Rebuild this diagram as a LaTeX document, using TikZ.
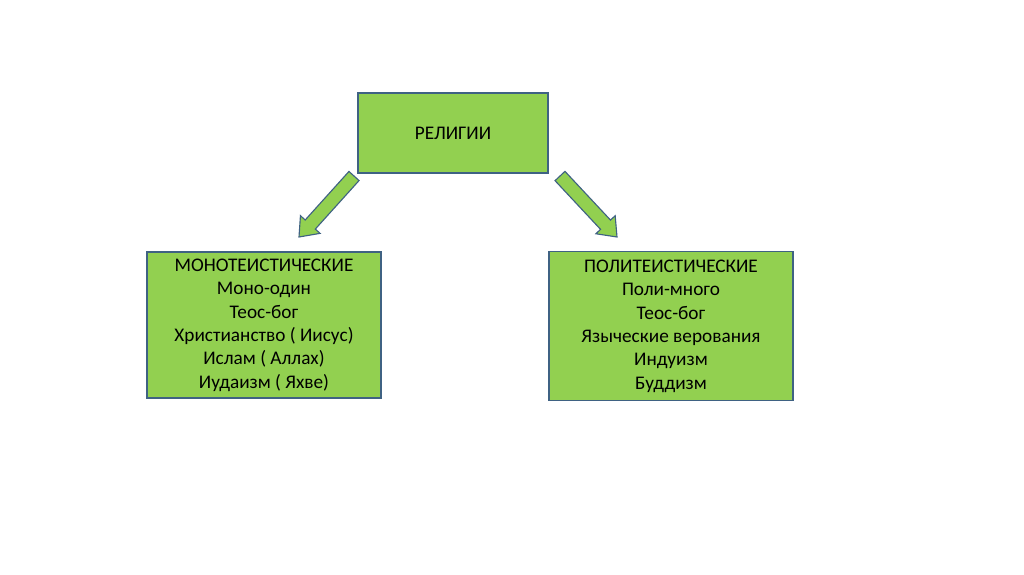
\documentclass[tikz,border=0pt]{standalone}
\usepackage{fontspec}
\setmainfont{Carlito}
\usetikzlibrary{calc}

\definecolor{boxgreen}{HTML}{92D050}
\definecolor{boxline}{HTML}{3F6283}

\tikzset{
  religbox/.style = {draw = boxline, fill = boxgreen, line width = 0.8pt,
    align = center, inner sep = 0pt, font = \fontsize{13.7}{16.6}\selectfont},
  blockarrow/.style = {draw = boxline, fill = boxgreen, line width = 0.8pt, line join = miter}
}

% freccia a blocco: #1 inizio, #2 punta
\newcommand{\blockarrow}[2]{%
  \coordinate (H) at ($(#2)!0.42cm!(#1)$);
  \draw[blockarrow] ($(#1)!0.17cm!90:(#2)$) -- ($(H)!0.17cm!-90:(#1)$)
    -- ($(H)!0.33cm!-90:(#1)$) -- (#2) -- ($(H)!0.33cm!90:(#1)$)
    -- ($(H)!0.17cm!90:(#1)$) -- ($(#1)!0.17cm!-90:(#2)$) -- cycle;
}

\begin{document}
\begin{tikzpicture}[x = 0.025cm, y = -0.025cm]
  % Sfondo (dimensioni del riferimento)
  \fill[white] (0,0) rectangle (1024,574);

  % Riquadri
  \node[religbox, minimum width = 4.75cm, minimum height = 2cm] (relig) at (453,133) {РЕЛИГИИ};
  \node[religbox, minimum width = 5.85cm, minimum height = 3.65cm] (mono) at (264,325)
    {МОНОТЕИСТИЧЕСКИЕ\\Моно-один\\Теос-бог\\Христианство ( Иисус)\\Ислам ( Аллах)\\Иудаизм ( Яхве)};
  \node[religbox, minimum width = 6.1cm, minimum height = 3.72cm] (poli) at (671,326)
    {ПОЛИТЕИСТИЧЕСКИЕ\\Поли-много\\Теос-бог\\Языческие верования\\Индуизм\\Буддизм};

  % Frecce
  \coordinate (A1) at (354,176); % inizio freccia sinistra
  \coordinate (A2) at (299,237); % punta freccia sinistra
  \coordinate (B1) at (560,176); % inizio freccia destra
  \coordinate (B2) at (617,237); % punta freccia destra
  \blockarrow{A1}{A2}
  \blockarrow{B1}{B2}
\end{tikzpicture}
\end{document}
